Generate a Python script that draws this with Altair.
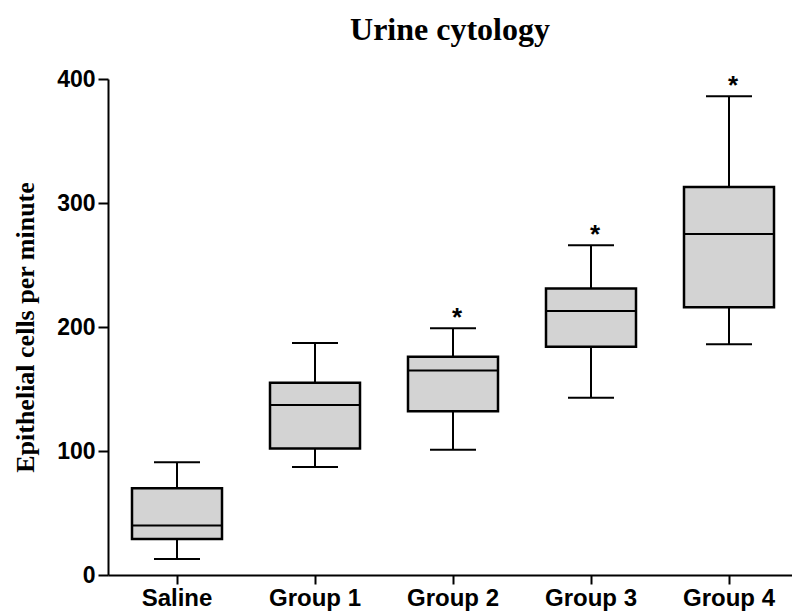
import altair as alt
import pandas as pd

groups = ["Saline", "Group 1", "Group 2", "Group 3", "Group 4"]
mins = [13, 87, 101, 143, 186]
q1s = [29, 102, 132, 184, 216]
medians = [40, 137, 165, 213, 275]
q3s = [70, 155, 176, 231, 313]
maxs = [91, 187, 199, 266, 386]
marks = ["", "", "*", "*", "*"]

df = pd.DataFrame({
    "group": groups, "min": mins, "q1": q1s, "median": medians,
    "q3": q3s, "max": maxs, "sig": marks,
})

xenc = alt.X(
    "group:N", sort=groups, title=None,
    scale=alt.Scale(range=[0, 690], paddingInner=0, paddingOuter=0),
    axis=alt.Axis(labelAngle=0, labelFont="Liberation Sans", labelFontWeight="bold",
                  labelFontSize=24, labelColor="black", labelPadding=2,
                  domainColor="black", domainWidth=2, tickColor="black",
                  tickWidth=2, tickSize=9, grid=False),
)
yscale = alt.Scale(domain=[0, 400], nice=False, zero=True)
yaxis = alt.Axis(values=[0, 100, 200, 300, 400], title="Epithelial cells per minute",
                 titleFont="Liberation Serif", titleFontWeight="bold", titleFontSize=26,
                 titleColor="black", titleX=-75, titleY=248, titleAngle=-90,
                 titleAlign="center", titleBaseline="alphabetic",
                 labelFont="Liberation Sans", labelFontWeight="bold", labelFontSize=23,
                 labelColor="black", labelPadding=3, domainColor="black", domainWidth=2,
                 tickColor="black", tickWidth=2, tickSize=10, grid=False)

base = alt.Chart(df).encode(x=xenc)

whisker = base.mark_rule(color="black", strokeWidth=2).encode(
    y=alt.Y("min:Q", scale=yscale, axis=yaxis), y2="max:Q")
box = base.mark_bar(size=90, color="#d3d3d3", stroke="black", strokeWidth=2.5).encode(
    y=alt.Y("q1:Q", scale=yscale, axis=yaxis), y2="q3:Q")
median = base.mark_tick(size=92, thickness=2, color="black", opacity=1).encode(
    y=alt.Y("median:Q", scale=yscale, axis=yaxis))
cap_lo = base.mark_tick(size=46, thickness=2, color="black", opacity=1).encode(
    y=alt.Y("min:Q", scale=yscale, axis=yaxis))
cap_hi = base.mark_tick(size=46, thickness=2, color="black", opacity=1).encode(
    y=alt.Y("max:Q", scale=yscale, axis=yaxis))
stars = base.mark_text(font="Liberation Sans", fontWeight="bold", fontSize=26,
                       color="black", baseline="alphabetic", dy=-2, dx=4).encode(
    y=alt.Y("max:Q", scale=yscale, axis=yaxis), text="sig:N")

chart = alt.layer(whisker, box, median, cap_lo, cap_hi, stars).properties(
    width=684, height=496,
    background="white",
    title=alt.TitleParams("Urine cytology", font="Liberation Serif", fontWeight="bold",
                          fontSize=32, color="black", anchor="middle", offset=21),
    autosize=alt.AutoSizeParams(type="none"),
    padding={"left": 108, "top": 79, "right": 0, "bottom": 40},
).configure_view(strokeWidth=0).configure_axis(grid=False)

chart.save("out.html", embed_options={"renderer": "svg", "actions": False})
